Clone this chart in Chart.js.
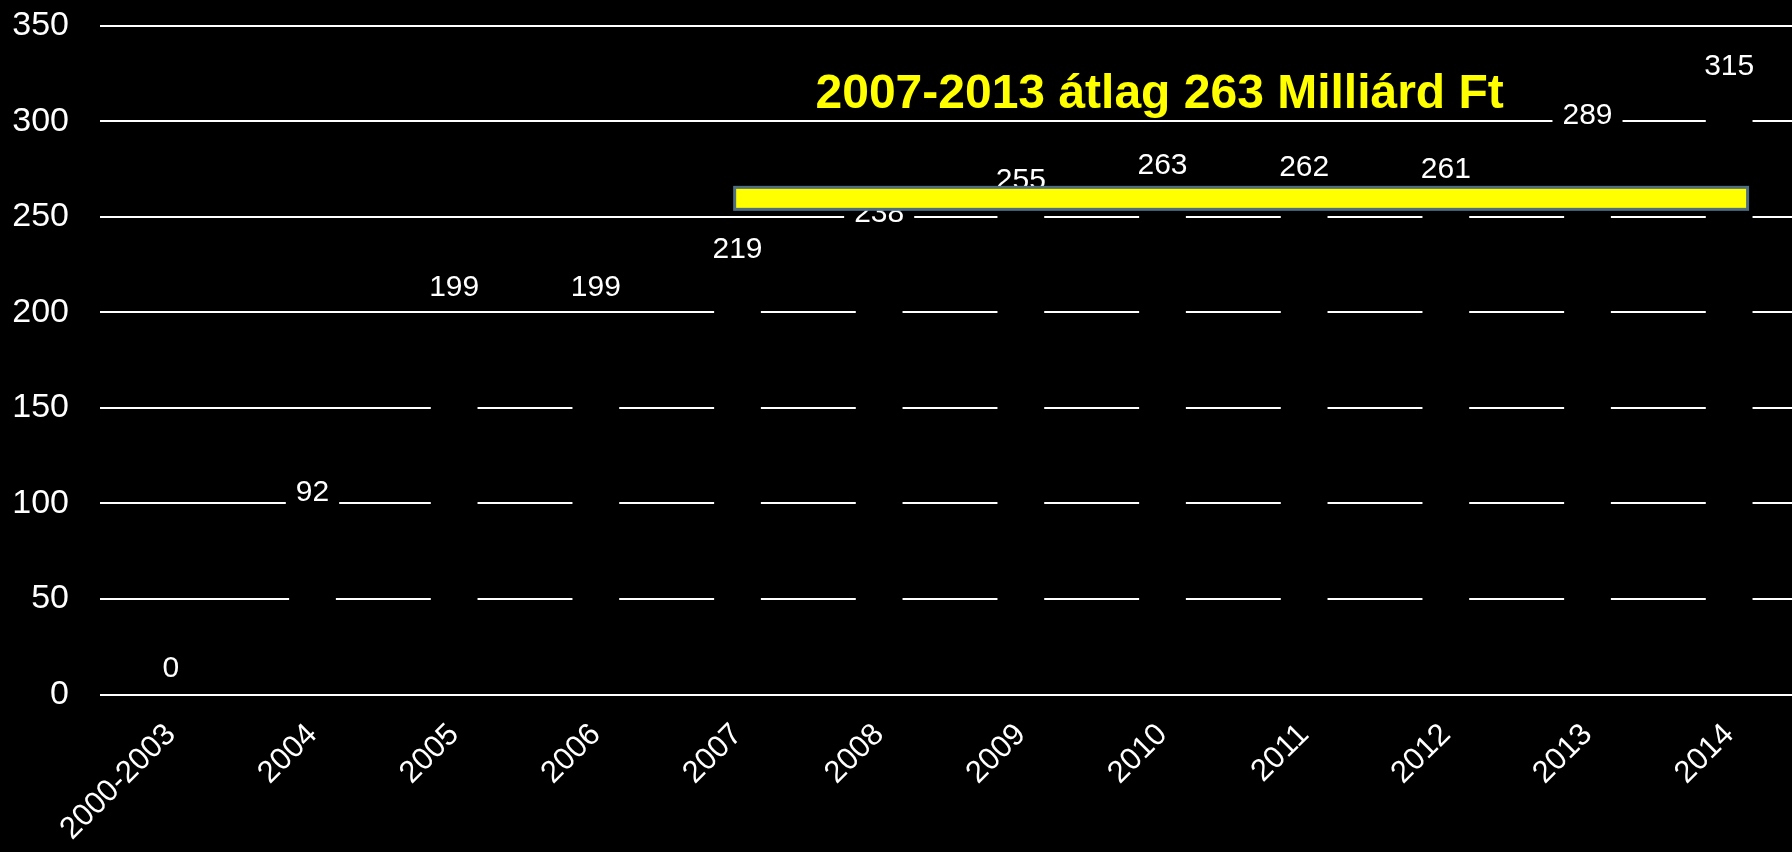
<!DOCTYPE html>
<html>
<head>
<meta charset="utf-8">
<script src="https://cdn.jsdelivr.net/npm/chart.js@4.4.1/dist/chart.umd.min.js"></script>
<style>
  html, body { margin: 0; padding: 0; background: #000; overflow: hidden; }
  #wrap { width: 1800px; height: 852px; }
</style>
</head>
<body>
<div id="wrap"><canvas id="chart"></canvas></div>
<script>
const years = ["2000-2003", "2004", "2005", "2006", "2007", "2008", "2009", "2010", "2011", "2012", "2013", "2014"];
const amounts = [0, 92, 199, 199, 219, 238, 255, 263, 262, 261, 289, 315];
const yTicks = [0, 50, 100, 150, 200, 250, 300, 350];

// average band 2007-2013
const avgText = "2007-2013 átlag 263 Milliárd Ft";
const avgFrom = 3.98, avgTo = 11.13;
const avgLow = 253.9, avgHigh = 265.4;
const avgTextAt = [6.98, 307];

const fontFamily = "'Liberation Sans', Arial, sans-serif";

const valueLabels = {
    id: 'valueLabels',
    afterDatasetsDraw(chart) {
        const ctx = chart.ctx;
        const meta = chart.getDatasetMeta(0);
        ctx.save();
        ctx.font = "30px " + fontFamily;
        ctx.textAlign = 'center';
        ctx.textBaseline = 'alphabetic';
        meta.data.forEach((bar, i) => {
            const txt = String(amounts[i]);
            const w = ctx.measureText(txt).width;
            const base = bar.y - 18;
            ctx.fillStyle = '#000';
            ctx.fillRect(bar.x - w / 2 - 10, base - 24, w + 20, 30);
            ctx.fillStyle = '#fff';
            ctx.fillText(txt, bar.x, base);
        });
        ctx.restore();
    }
};

const avgBand = {
    id: 'avgBand',
    afterDraw(chart) {
        const ctx = chart.ctx;
        const x = chart.scales.x, y = chart.scales.y;
        const x1 = x.getPixelForValue(avgFrom), x2 = x.getPixelForValue(avgTo);
        const y1 = y.getPixelForValue(avgHigh), y2 = y.getPixelForValue(avgLow);
        ctx.save();
        ctx.fillStyle = '#ffff00';
        ctx.fillRect(x1, y1, x2 - x1, y2 - y1);
        ctx.strokeStyle = '#4f6f80';
        ctx.lineWidth = 3;
        ctx.strokeRect(x1, y1, x2 - x1, y2 - y1);

        ctx.font = "bold 48px " + fontFamily;
        ctx.fillStyle = '#ffff00';
        ctx.textAlign = 'center';
        ctx.textBaseline = 'alphabetic';
        ctx.fillText(avgText, x.getPixelForValue(avgTextAt[0]), y.getPixelForValue(avgTextAt[1]));
        ctx.restore();
    }
};

new Chart(document.getElementById('chart'), {
    type: 'bar',
    data: {
        labels: years,
        datasets: [{
            data: amounts,
            backgroundColor: '#000',
            borderWidth: 0,
            categoryPercentage: 1,
            barPercentage: 0.33
        }]
    },
    options: {
        responsive: true,
        maintainAspectRatio: false,
        animation: false,
        layout: { padding: { left: 0, top: 25.7, right: 0, bottom: 0 } },
        plugins: {
            legend: { display: false },
            tooltip: { enabled: false }
        },
        scales: {
            x: {
                grid: { display: false, drawTicks: false },
                border: { display: false },
                afterFit(axis) {
                    axis.height = 157.5;
                    axis.paddingLeft = 0;
                    axis.paddingRight = 0;
                },
                ticks: {
                    color: '#fff',
                    font: { family: fontFamily, size: 31 },
                    minRotation: 45,
                    maxRotation: 45,
                    padding: 22,
                    labelOffset: 0
                }
            },
            y: {
                min: 0,
                max: 350,
                afterBuildTicks(axis) {
                    axis.ticks = yTicks.map(v => ({ value: v }));
                },
                afterFit(axis) {
                    axis.width = 100;
                    axis.paddingTop = 0;
                    axis.paddingBottom = 0;
                },
                grid: { color: '#fff', lineWidth: 2, drawTicks: false },
                border: { display: false },
                ticks: {
                    color: '#fff',
                    font: { family: fontFamily, size: 34 },
                    padding: 31
                }
            }
        }
    },
    plugins: [valueLabels, avgBand]
});
</script>
</body>
</html>
